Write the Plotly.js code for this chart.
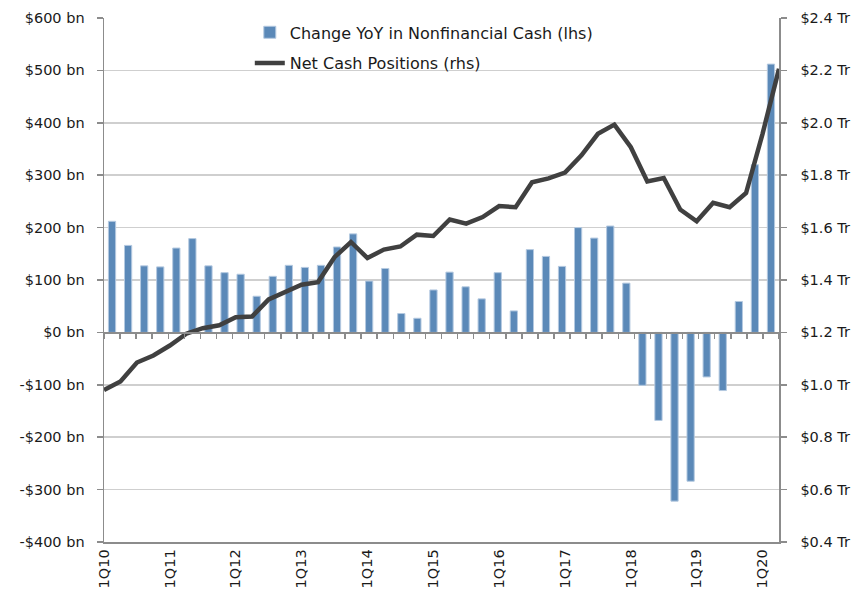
<!DOCTYPE html>
<html>
<head>
<meta charset="utf-8">
<script src="https://cdn.plot.ly/plotly-3.0.1.min.js"></script>
<style>html,body{margin:0;padding:0;background:#fff;}#chart{width:858px;height:592px;}</style>
</head>
<body>
<div id="chart"></div>
<script>
const quarters = ["1Q10","2Q10","3Q10","4Q10","1Q11","2Q11","3Q11","4Q11","1Q12","2Q12","3Q12","4Q12",
  "1Q13","2Q13","3Q13","4Q13","1Q14","2Q14","3Q14","4Q14","1Q15","2Q15","3Q15","4Q15",
  "1Q16","2Q16","3Q16","4Q16","1Q17","2Q17","3Q17","4Q17","1Q18","2Q18","3Q18","4Q18",
  "1Q19","2Q19","3Q19","4Q19","1Q20","2Q20"];
const changeYoY = [212,166,127,125,161,179,127,114,111,69,107,128,
  124,128,163,188,98,122,36,27,81,115,87,64,
  114,41,158,145,126,200,180,203,94,-101,-168,-322,
  -284,-85,-111,59,320,512];
const netCash = [0.98,1.013,1.085,1.112,1.15,1.195,1.216,1.227,1.258,1.261,1.326,1.356,
  1.382,1.392,1.487,1.545,1.484,1.516,1.528,1.573,1.568,1.631,1.615,1.640,
  1.682,1.678,1.773,1.788,1.810,1.876,1.958,1.993,1.907,1.776,1.789,1.669,
  1.624,1.695,1.678,1.732,1.958,2.206];
const xTickLabels = ["1Q10","1Q11","1Q12","1Q13","1Q14","1Q15","1Q16","1Q17","1Q18","1Q19","1Q20"];
const leftTickVals = [-400,-300,-200,-100,0,100,200,300,400,500,600];
const leftTickText = ["-$400 bn","-$300 bn","-$200 bn","-$100 bn","$0 bn","$100 bn","$200 bn","$300 bn","$400 bn","$500 bn","$600 bn"];
const rightTickVals = [0.4,0.6,0.8,1.0,1.2,1.4,1.6,1.8,2.0,2.2,2.4];
const rightTickText = ["$0.4 Tr","$0.6 Tr","$0.8 Tr","$1.0 Tr","$1.2 Tr","$1.4 Tr","$1.6 Tr","$1.8 Tr","$2.0 Tr","$2.2 Tr","$2.4 Tr"];

const FONT = "'DejaVu Sans', sans-serif";
const AX = "#8c8c8c";

const traces = [
  {
    type: "bar", x: quarters, y: changeYoY, xaxis: "x", yaxis: "y",
    name: "Change YoY in Nonfinancial Cash (lhs)", legendgroup: "a",
    marker: {color: "#5b89b8", line: {color: "#b4c9e0", width: 1}}
  },
  {
    type: "scatter", mode: "lines", x: quarters, y: netCash, xaxis: "x2", yaxis: "y2",
    name: "Net Cash Positions (rhs)", legendgroup: "b",
    line: {color: "#404040", width: 4.5}
  }
];

const layout = {
  width: 858, height: 592,
  margin: {l: 104, r: 79, t: 18, b: 50},
  paper_bgcolor: "#fff", plot_bgcolor: "#fff",
  font: {family: FONT, size: 14.5, color: "#1a1a1a"},
  bargap: 0.55,
  showlegend: true,
  legend: {x: 0.216, y: 1.005, xanchor: "left", yanchor: "top", bgcolor: "rgba(0,0,0,0)",
    font: {family: FONT, size: 16, color: "#1a1a1a"}, tracegroupgap: 7, traceorder: "grouped"},
  xaxis: {
    type: "category", anchor: "free", position: 0.4,
    showline: true, linecolor: AX, linewidth: 1.5,
    ticks: "outside", tickson: "boundaries", ticklen: 5, tickcolor: AX, tickwidth: 1.5,
    tickmode: "linear", tick0: 0, dtick: 1,
    showticklabels: false, showgrid: false, zeroline: false
  },
  xaxis2: {
    type: "category", overlaying: "x", anchor: "y", side: "bottom",
    showline: true, linecolor: AX, linewidth: 1.5, ticks: "",
    tickmode: "array", tickvals: xTickLabels, ticktext: xTickLabels, tickangle: -90,
    showgrid: false, zeroline: false, tickfont: {family: FONT, size: 14.5}
  },
  yaxis: {
    range: [-400, 600], anchor: "x2", side: "left",
    tickmode: "array", tickvals: leftTickVals, ticktext: leftTickText,
    showline: true, linecolor: AX, linewidth: 1.5,
    ticks: "outside", ticklen: 6, tickcolor: AX, tickwidth: 1.5, ticklabelstandoff: 9,
    showgrid: true, gridcolor: "#cfcfcf", gridwidth: 1.5, zeroline: false
  },
  yaxis2: {
    range: [0.4, 2.4], overlaying: "y", anchor: "x2", side: "right",
    tickmode: "array", tickvals: rightTickVals, ticktext: rightTickText,
    showline: true, linecolor: AX, linewidth: 1.5,
    ticks: "outside", ticklen: 6, tickcolor: AX, tickwidth: 1.5, ticklabelstandoff: 11,
    showgrid: false, zeroline: false
  }
};

Plotly.newPlot("chart", traces, layout, {displayModeBar: false, staticPlot: true});
</script>
</body>
</html>
